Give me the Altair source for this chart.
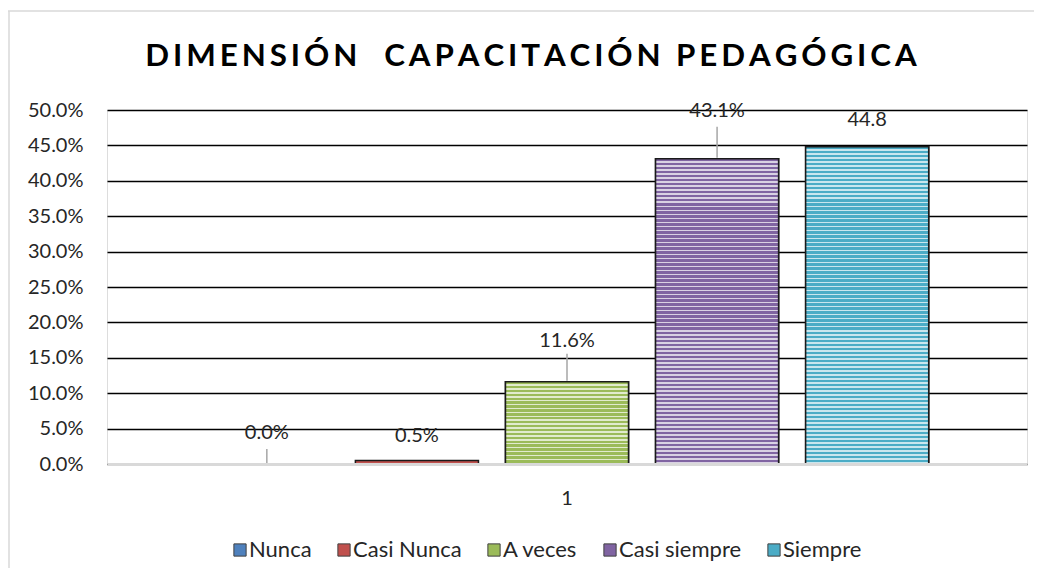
import altair as alt
import pandas as pd

# ---- data ----
series = ["Nunca", "Casi Nunca", "A veces", "Casi siempre", "Siempre"]
values = [0.0, 0.005, 0.116, 0.431, 0.448]
label_texts = ["0.0%", "0.5%", "11.6%", "43.1%", "44.8"]
category = ["1", "1", "1", "1", "1"]
y_ticks = [0.0, 0.05, 0.10, 0.15, 0.20, 0.25, 0.30, 0.35, 0.40, 0.45, 0.50]
title_text = "DIMENSIÓN  CAPACITACIÓN PEDAGÓGICA"

# ---- styles ----
colors = ["#4F81BD", "#C0504D", "#9BBB59", "#8064A2", "#4BACC6"]
light_colors = ["#CAD9EB", "#ECCAC9", "#E1EBCD", "#D9D1E3", "#C9E6EE"]
label_dy = [-31, -24, -41, -48, -27]
leaders = {0: (-15, 0), 2: (-28, -1), 3: (-32, -1)}
FONT = "Lato"
TXT = "#262626"
W, H = 920, 354
YMAX = 0.5

df = pd.DataFrame({"cat": category, "serie": series, "valor": values, "etiqueta": label_texts})

x_enc = alt.X(
    "cat:N",
    scale=alt.Scale(paddingOuter=0.113, paddingInner=0),
    axis=alt.Axis(title=None, ticks=False, labelAngle=0, labelPadding=24,
                  domainColor="#D9D9D9", domainWidth=3, labelFontSize=20,
                  labelFont=FONT, labelColor=TXT, zindex=1),
)
xo_enc = alt.XOffset("serie:N", sort=series,
                     scale=alt.Scale(domain=series, paddingInner=0.18, paddingOuter=0.09))
y_enc = alt.Y(
    "valor:Q",
    scale=alt.Scale(domain=[0, YMAX]),
    axis=alt.Axis(title=None, format=".1%", values=y_ticks, domain=False, ticks=False,
                  labelPadding=24, labelFontSize=20, labelFont=FONT, labelColor=TXT,
                  gridColor="#000000", gridWidth=1.3),
)

base = alt.Chart(df).mark_bar(stroke="#1a1a1a", strokeWidth=1.5).encode(
    x=x_enc, xOffset=xo_enc, y=y_enc,
    color=alt.Color(
        "serie:N", sort=series,
        scale=alt.Scale(domain=series, range=colors),
        legend=alt.Legend(title=None, orient="none", legendX=122, legendY=429,
                          direction="horizontal", columns=5, symbolType="square",
                          symbolSize=150, symbolStrokeColor="#404040", symbolStrokeWidth=1,
                          labelFont=FONT, labelFontSize=22, labelColor=TXT,
                          columnPadding=21, labelOffset={"expr": "-2"}),
    ),
)


def stripe_gradient(dark, light, h_px, pitch=4.0, dark_frac=0.62):
    n = max(1, round(h_px / pitch))
    stops = []
    for i in range(n):
        a = i / n
        b = (i + dark_frac) / n
        c = (i + 1) / n
        stops += [alt.GradientStop(offset=a, color=dark), alt.GradientStop(offset=b, color=dark),
                  alt.GradientStop(offset=b, color=light), alt.GradientStop(offset=c, color=light)]
    return alt.LinearGradient(gradient="linear", stops=stops, x1=0, x2=0, y1=0, y2=1)


layers = [base]
for i, s in enumerate(series):
    h_px = values[i] / YMAX * H
    if h_px >= 6:
        layers.append(
            alt.Chart(df).transform_filter(alt.datum.serie == s)
            .mark_bar(fill=stripe_gradient(colors[i], light_colors[i], h_px),
                      stroke="#1a1a1a", strokeWidth=1.5)
            .encode(x=x_enc, xOffset=xo_enc, y=y_enc)
        )

for i, s in enumerate(series):
    if i in leaders:
        a, b = leaders[i]
        layers.append(
            alt.Chart(df).transform_filter(alt.datum.serie == s)
            .mark_rule(color="#A6A6A6", strokeWidth=1.5, yOffset=a, y2Offset=b)
            .encode(x=x_enc, xOffset=xo_enc, y=y_enc, y2="valor:Q")
        )
    layers.append(
        alt.Chart(df).transform_filter(alt.datum.serie == s)
        .mark_text(dy=label_dy[i], fontSize=20, font=FONT, color=TXT, baseline="middle")
        .encode(x=x_enc, xOffset=xo_enc, y=y_enc, text="etiqueta:N")
    )

one = pd.DataFrame({"t": ["\u2009".join(title_text)]})
title = alt.Chart(one).mark_text(font=FONT, fontWeight="bold", fontSize=31.3, color="#000000",
                                 align="center", baseline="alphabetic").encode(
    x=alt.value(424), y=alt.value(-44), text="t:N")

border = alt.Chart(one).mark_rule(color="#D9D9D9", strokeWidth=1.5).encode(
    x=alt.value(-99), x2=alt.value(W + 7), y=alt.value(-99), y2=alt.value(-99))
border_left = alt.Chart(one).mark_rule(color="#D9D9D9", strokeWidth=1.5).encode(
    x=alt.value(-98), x2=alt.value(-98), y=alt.value(-99), y2=alt.value(H + 104))
layers += [title, border, border_left]

chart = alt.layer(*layers).properties(
    width=W, height=H,
    autosize=alt.AutoSizeParams(type="none"),
    padding={"left": 99, "top": 102, "right": 7, "bottom": 104},
).configure_view(stroke=None).configure(background="white")

chart.save("out.html", embed_options={"renderer": "svg", "actions": False})
